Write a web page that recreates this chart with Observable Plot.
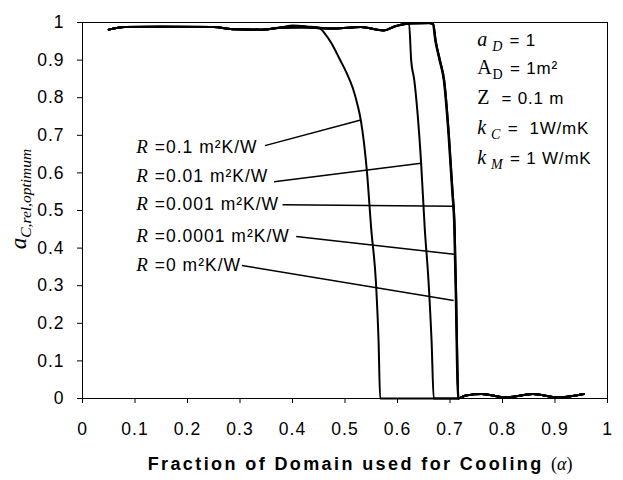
<!DOCTYPE html>
<html><head><meta charset="utf-8">
<script src="https://cdn.jsdelivr.net/npm/d3@7"></script>
<script src="https://cdn.jsdelivr.net/npm/@observablehq/plot@0.6"></script>
<style>
body{margin:0;background:#fff;}
svg{display:block;}
</style></head><body><div id="chart"></div>
<script>
const SANS = "'Liberation Sans', Arial, sans-serif";
const SERIF = "'Liberation Serif', 'Times New Roman', serif";

const xTicks = [0,0.1,0.2,0.3,0.4,0.5,0.6,0.7,0.8,0.9,1];
const xTickLabels = ["0","0.1","0.2","0.3","0.4","0.5","0.6","0.7","0.8","0.9","1"];
const yTicks = [0,0.1,0.2,0.3,0.4,0.5,0.6,0.7,0.8,0.9,1];
const yTickLabels = ["0","0.1","0.2","0.3","0.4","0.5","0.6","0.7","0.8","0.9","1"];

const seriesNames = ["R=0.1","R=0.01","R=0.001","R=0.0001","R=0"];

// R = 0.1
const xR1 = [0.05,0.08,0.15,0.25,0.29,0.34,0.38,0.40,0.43,0.45,0.462,0.475,0.489,0.503,0.515,0.524,0.530,0.542,0.550,0.559,0.564,0.567,0.715,0.73,0.76,0.807,0.858,0.906,0.955];
const yR1 = [0.981,0.988,0.989,0.988,0.982,0.981,0.988,0.992,0.989,0.986,0.970,0.943,0.905,0.866,0.825,0.780,0.741,0.600,0.450,0.307,0.150,0.0,0.0,0.008,0.012,0.003,0.012,0.003,0.012];
// R = 0.01
const xR2 = [0.05,0.08,0.15,0.25,0.29,0.34,0.38,0.42,0.45,0.48,0.53,0.574,0.596,0.615,0.622,0.626,0.632,0.645,0.652,0.659,0.665,0.669,0.715,0.73,0.76,0.807,0.858,0.906,0.955];
const yR2 = [0.981,0.988,0.989,0.988,0.982,0.981,0.986,0.987,0.985,0.984,0.988,0.979,0.990,0.996,0.998,0.900,0.846,0.626,0.450,0.314,0.150,0.0,0.0,0.008,0.012,0.003,0.012,0.003,0.012];
// R = 0.001
const xR3 = [0.05,0.08,0.15,0.25,0.29,0.34,0.38,0.42,0.45,0.48,0.53,0.574,0.596,0.622,0.660,0.667,0.672,0.680,0.688,0.697,0.704,0.708,0.709,0.711,0.713,0.715,0.73,0.76,0.807,0.858,0.906,0.955];
const yR3 = [0.981,0.988,0.989,0.988,0.982,0.981,0.986,0.987,0.985,0.984,0.988,0.979,0.991,0.997,0.998,0.996,0.950,0.899,0.846,0.700,0.550,0.450,0.384,0.260,0.100,0.0,0.008,0.012,0.003,0.012,0.003,0.012];
// R = 0.0001
const xR4 = [0.05,0.08,0.15,0.25,0.29,0.34,0.38,0.42,0.45,0.48,0.53,0.574,0.596,0.622,0.660,0.668,0.673,0.681,0.689,0.698,0.705,0.709,0.710,0.712,0.714,0.716,0.73,0.76,0.807,0.858,0.906,0.955];
const yR4 = [0.981,0.988,0.989,0.988,0.982,0.981,0.987,0.989,0.986,0.984,0.988,0.979,0.990,0.998,0.999,0.996,0.950,0.899,0.846,0.700,0.550,0.450,0.384,0.260,0.100,0.0,0.008,0.012,0.003,0.012,0.003,0.012];
// R = 0
const xR5 = [0.05,0.08,0.15,0.25,0.29,0.34,0.38,0.42,0.45,0.48,0.53,0.574,0.596,0.622,0.660,0.668,0.673,0.681,0.689,0.698,0.705,0.709,0.710,0.712,0.714,0.716,0.73,0.76,0.807,0.858,0.906,0.955];
const yR5 = [0.981,0.988,0.989,0.988,0.982,0.981,0.987,0.989,0.986,0.984,0.988,0.979,0.990,0.998,0.999,0.996,0.950,0.899,0.846,0.700,0.550,0.450,0.384,0.260,0.100,0.0,0.008,0.012,0.003,0.012,0.003,0.012];

// curve labels and leader lines
const labelValues = ["0.1","0.01","0.001","0.0001","0"];
const labelX = [0.1034,0.1034,0.1034,0.1034,0.1034];
const labelY = [0.667,0.591,0.516,0.431,0.354];
const leadX1 = [0.3475,0.365,0.381,0.407,0.3036];
const leadY1 = [0.6726,0.5766,0.5154,0.4311,0.3537];
const leadX2 = [0.530,0.645,0.7077,0.7077,0.707];
const leadY2 = [0.7407,0.6258,0.511,0.3835,0.2606];

// parameter block
const paramSym = ["a","A","Z","k","k"];
const paramSub = ["D","D","","C","M"];
const paramItalic = [true,false,false,true,true];
const paramRest = [" = 1"," = 1m²","  = 0.1 m"," =  1W/mK"," = 1 W/mK"];
const paramX = [0.753,0.753,0.753,0.753,0.753];
const paramY = [0.952,0.878,0.798,0.718,0.638];

const xs = [xR1,xR2,xR3,xR4,xR5], ys = [yR1,yR2,yR3,yR4,yR5];
const rows = [];
seriesNames.forEach((s,k)=>xs[k].forEach((x,i)=>rows.push({series:s,x,y:ys[k][i]})));
const leaders = labelValues.map((v,i)=>({x1:leadX1[i],y1:leadY1[i],x2:leadX2[i],y2:leadY2[i]}));

const chart = Plot.plot({
  width: 623, height: 480,
  marginLeft: 82, marginRight: 16, marginTop: 22, marginBottom: 82,
  style: {fontFamily: SANS, fontSize: "17.5px", color: "black", background: "white"},
  x: {domain: [0,1]},
  y: {domain: [0,1]},
  marks: [
    Plot.frame({stroke: "black", strokeWidth: 1}),
    Plot.axisX({ticks: xTicks, tickFormat: d => xTickLabels[xTicks.indexOf(d)], tickSize: 5, tickPadding: 19, label: null, stroke:"black", strokeOpacity:1}),
    Plot.axisY({ticks: yTicks, tickFormat: d => yTickLabels[yTicks.indexOf(d)], tickSize: 5, tickPadding: 13, label: null, stroke:"black", strokeOpacity:1}),
    Plot.link(leaders, {x1:"x1", y1:"y1", x2:"x2", y2:"y2", stroke: "black", strokeWidth: 1.5}),
    Plot.line(rows, {x: "x", y: "y", z: "series", stroke: "black", strokeWidth: 2, curve: "monotone-x"})
  ]
});
document.getElementById("chart").appendChild(chart);

const sxs = chart.scale("x"), sys = chart.scale("y");
const lin = s => v => s.range[0] + (v - s.domain[0]) / (s.domain[1] - s.domain[0]) * (s.range[1] - s.range[0]);
const X = lin(sxs), Y = lin(sys);
const svg = d3.select(chart);
svg.selectAll("g[aria-label='x-axis tick label'] text, g[aria-label='y-axis tick label'] text").attr("letter-spacing", "1px");

// curve labels
labelValues.forEach((v,i)=>{
  const t = svg.append("text").attr("x", X(labelX[i])).attr("y", Y(labelY[i])).attr("dy","0.35em")
    .attr("text-anchor","start").attr("font-family", SANS).attr("font-size", 17.5).attr("letter-spacing","1px").attr("fill","black");
  t.append("tspan").attr("font-family", SERIF).attr("font-style","italic").attr("font-size",19).text("R");
  t.append("tspan").text(" =" + v + " m²K/W");
});

// parameter block
paramSym.forEach((s,i)=>{
  const t = svg.append("text").attr("x", X(paramX[i])).attr("y", Y(paramY[i])).attr("dy","0.35em")
    .attr("text-anchor","start").attr("font-family", SANS).attr("font-size", 17).attr("letter-spacing","0.8px").attr("fill","black");
  t.append("tspan").attr("font-family", SERIF).attr("font-style", paramItalic[i] ? "italic" : "normal").attr("font-size",20).text(s);
  if (paramSub[i]) {
    t.append("tspan").attr("font-family", SERIF).attr("font-style", paramItalic[i] ? "italic" : "normal").attr("font-size",14)
      .attr("dx", paramItalic[i] ? 4 : 0).attr("dy", 5).text(paramSub[i]);
    t.append("tspan").attr("dy", -5).attr("dx", 1).text(paramRest[i]);
  } else {
    t.append("tspan").text(paramRest[i]);
  }
});

// y axis title
const yl = svg.append("text").attr("transform", `translate(26,${(Y(0)+Y(1))/2 - 11}) rotate(-90)`)
  .attr("text-anchor","middle").attr("font-family", SERIF).attr("font-style","italic").attr("fill","black");
yl.append("tspan").attr("font-size", 23).text("a");
yl.append("tspan").attr("font-size", 15.5).attr("dy", 5).text("C,rel,optimum");

// x axis title
const xl = svg.append("text").attr("x", X(0.125)).attr("y", 470).attr("text-anchor","start")
  .attr("font-family", SANS).attr("font-weight","bold").attr("font-size",18).attr("letter-spacing","2.4px").attr("fill","black");
xl.append("tspan").text("Fraction of Domain used for Cooling ");
xl.append("tspan").attr("font-family", SERIF).attr("font-weight","normal").attr("letter-spacing","0px").attr("font-size",18).text("(");
xl.append("tspan").attr("font-family", SERIF).attr("font-weight","normal").attr("letter-spacing","0px").attr("font-style","italic").attr("font-size",18).text("α");
xl.append("tspan").attr("font-family", SERIF).attr("font-weight","normal").attr("letter-spacing","0px").attr("font-size",18).text(")");
</script>
</body></html>
